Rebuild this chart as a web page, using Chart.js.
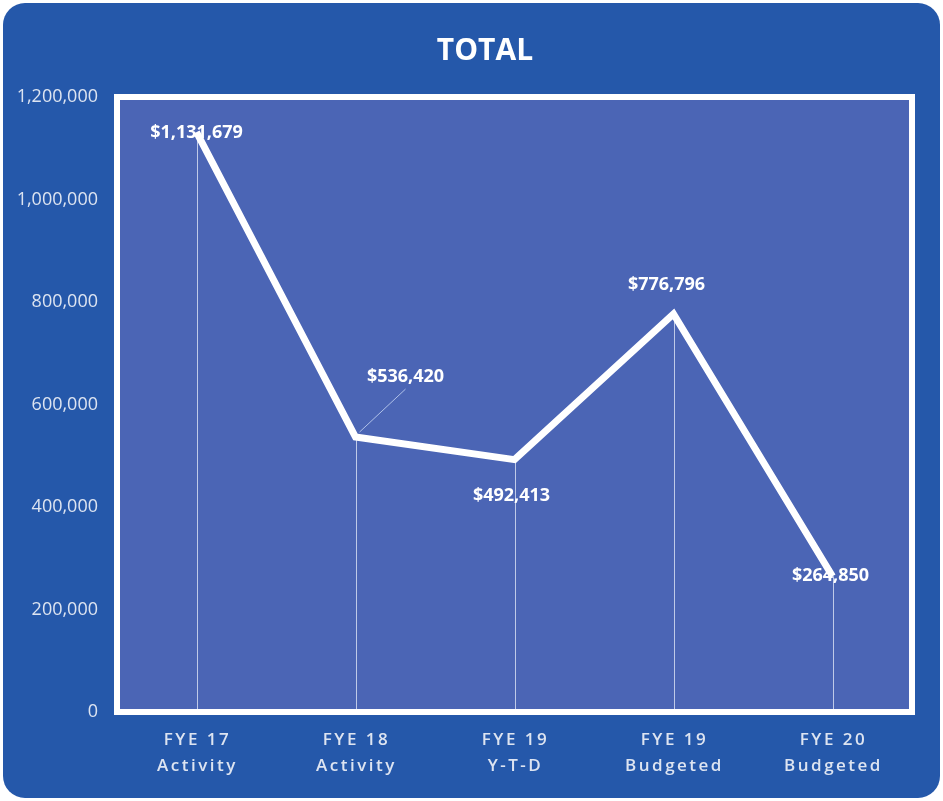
<!DOCTYPE html>
<html>
<head>
<meta charset="utf-8">
<style>
    html, body { margin: 0; padding: 0; background: #ffffff; }
    #wrap { width: 943px; height: 801px; }
</style>
<script src="https://cdn.jsdelivr.net/npm/chart.js@4"></script>
</head>
<body>
<div id="wrap"><canvas id="totalChart" width="943" height="801"></canvas></div>
<script>
const categories = [['FYE 17', 'Activity'], ['FYE 18', 'Activity'], ['FYE 19', 'Y-T-D'], ['FYE 19', 'Budgeted'], ['FYE 20', 'Budgeted']];
const totals = [1131679, 536420, 492413, 776796, 264850];
const yTicks = [0, 200000, 400000, 600000, 800000, 1000000, 1200000];

// label placement relative to each point (dx, dy) in px
const labelOffsets = [[0, 1], [50, -60], [-3, 36], [-7, -29], [-2, 0]];

const colors = {
    frame: '#2558aa',
    plot: '#4b65b5',
    white: '#ffffff',
    tick: '#dde4f1',
    drop: 'rgba(230, 236, 250, 0.75)'
};

const font = '"Open Sans", "Liberation Sans", Arial, sans-serif';

const fmtMoney = function (v) {
    return '$' + v.toLocaleString('en-US');
};

const framePlugin = {
    id: 'frame',
    beforeDraw: function (chart) {
        const ctx = chart.ctx;
        const a = chart.chartArea;
        ctx.save();
        ctx.fillStyle = colors.frame;
        ctx.beginPath();
        ctx.roundRect(3, 3, chart.width - 6, chart.height - 6, 22);
        ctx.fill();
        ctx.fillStyle = colors.plot;
        ctx.fillRect(a.left, a.top, a.right - a.left, a.bottom - a.top);
        ctx.restore();
    },
    beforeDatasetsDraw: function (chart) {
        const ctx = chart.ctx;
        const meta = chart.getDatasetMeta(0);
        const bottom = chart.scales.y.getPixelForValue(0);
        ctx.save();
        ctx.strokeStyle = colors.drop;
        ctx.lineWidth = 1;
        meta.data.forEach(function (pt) {
            ctx.beginPath();
            ctx.moveTo(Math.round(pt.x) + 0.5, pt.y);
            ctx.lineTo(Math.round(pt.x) + 0.5, bottom);
            ctx.stroke();
        });
        ctx.restore();
    },
    afterDraw: function (chart) {
        const ctx = chart.ctx;
        const a = chart.chartArea;
        const meta = chart.getDatasetMeta(0);
        const xScale = chart.scales.x;

        ctx.save();
        // plot border
        ctx.strokeStyle = colors.white;
        ctx.lineWidth = 6;
        ctx.strokeRect(a.left, a.top, a.right - a.left, a.bottom - a.top);

        // title
        ctx.fillStyle = colors.white;
        ctx.textAlign = 'center';
        ctx.textBaseline = 'middle';
        ctx.font = '700 30px ' + font;
        ctx.fillText('TOTAL', 485, 51);

        // leader line for the shifted label
        const p1 = meta.data[1];
        ctx.strokeStyle = 'rgba(200, 215, 245, 0.8)';
        ctx.lineWidth = 1;
        ctx.beginPath();
        ctx.moveTo(p1.x + 4, p1.y - 5);
        ctx.lineTo(p1.x + labelOffsets[1][0], p1.y + labelOffsets[1][1] + 12);
        ctx.stroke();

        // data labels
        ctx.font = '700 18px ' + font;
        ctx.fillStyle = colors.white;
        meta.data.forEach(function (pt, i) {
            ctx.fillText(fmtMoney(totals[i]), pt.x + labelOffsets[i][0], pt.y + labelOffsets[i][1]);
        });

        // category labels
        ctx.font = '600 17px ' + font;
        ctx.fillStyle = colors.tick;
        ctx.letterSpacing = '2.5px';
        categories.forEach(function (lines, i) {
            const x = xScale.getPixelForValue(i);
            ctx.fillText(lines[0], x + 1, a.bottom + 28);
            ctx.fillText(lines[1], x + 1, a.bottom + 54);
        });
        ctx.restore();
    }
};

new Chart(document.getElementById('totalChart'), {
    type: 'line',
    data: {
        labels: categories.map(function (c) { return c.join(' '); }),
        datasets: [{
            data: totals,
            borderColor: colors.white,
            borderWidth: 7,
            borderJoinStyle: 'miter',
            pointRadius: 0,
            pointHoverRadius: 0,
            tension: 0,
            fill: false
        }]
    },
    options: {
        responsive: false,
        animation: false,
        events: [],
        layout: { padding: { left: 0, right: 31, top: 97, bottom: 0 } },
        plugins: {
            legend: { display: false },
            tooltip: { enabled: false },
            title: { display: false }
        },
        scales: {
            x: {
                offset: true,
                grid: { display: false, drawTicks: false },
                border: { display: false },
                ticks: { display: false },
                afterFit: function (scale) { scale.height = 89; }
            },
            y: {
                min: 0,
                max: 1200000,
                grid: { display: false, drawTicks: false },
                border: { display: false },
                afterBuildTicks: function (scale) {
                    scale.ticks = yTicks.map(function (v) { return { value: v }; });
                },
                ticks: {
                    color: colors.tick,
                    padding: 19,
                    font: { family: font, size: 18 },
                    callback: function (v) { return v.toLocaleString('en-US'); }
                },
                afterFit: function (scale) { scale.width = 117; }
            }
        }
    },
    plugins: [framePlugin]
});
</script>
</body>
</html>
